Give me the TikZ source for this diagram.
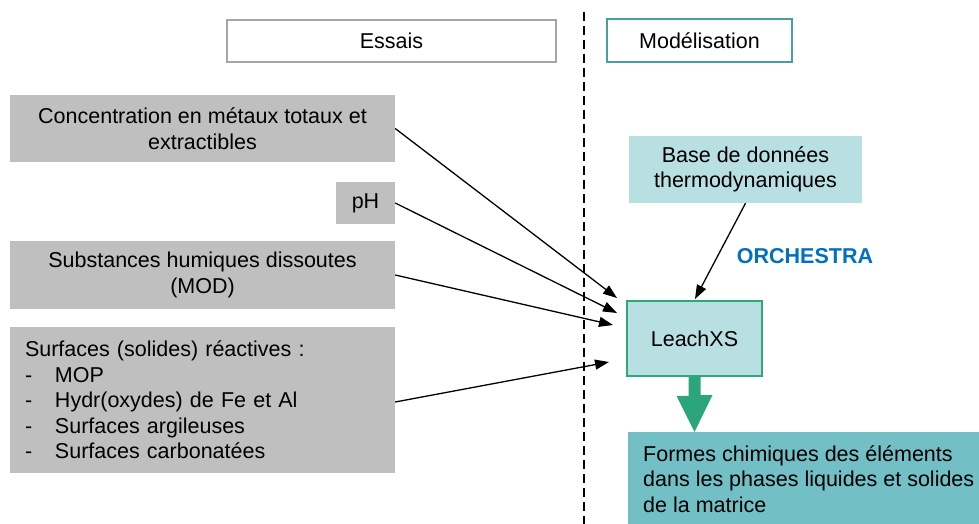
\documentclass[tikz,border=0pt]{standalone}
\usepackage{fontspec}
\setmainfont{Liberation Sans}
\usetikzlibrary{arrows.meta}
\definecolor{boxgray}{HTML}{BFBFBF}
\definecolor{hdrgray}{HTML}{A6A6A6}
\definecolor{hdrteal}{HTML}{4A9E9E}
\definecolor{lightteal}{HTML}{B8DFE2}
\definecolor{leachborder}{HTML}{2EA87C}
\definecolor{arrowgreen}{HTML}{2BA57B}
\definecolor{formesfill}{HTML}{72BFC5}
\definecolor{orchblue}{HTML}{0070C0}
\tikzset{
  txt/.style={font=\fontsize{21.5}{25.5}\selectfont},
  hdrbox/.style={txt, fill=white, line width=1.5pt, inner sep=0pt, align=center},
  graybox/.style={txt, fill=boxgray, inner sep=0pt, align=center},
  tealbox/.style={txt, fill=lightteal, inner sep=0pt, align=center},
  conn/.style={line width=1.3pt, -{Triangle[length=14pt,width=10pt]}},
  divider/.style={line width=1.5pt, dash pattern=on 9pt off 5pt}
}
\begin{document}
\begin{tikzpicture}[x=1pt,y=-1pt]
\useasboundingbox (0,0) rectangle (979,524);

% headers
\node[hdrbox, draw=hdrgray, minimum width=329pt, minimum height=42pt] (essais) at (391.5,41) {Essais};
\node[hdrbox, draw=hdrteal, minimum width=185pt, minimum height=43pt] (model) at (699.5,40.5) {Modélisation};

% divider
\coordinate (divtop) at (584,12);
\coordinate (divbot) at (584,524);
\draw[divider] (divtop) -- (divbot);

% left boxes
\node[graybox, minimum width=385pt, minimum height=67pt] (conc) at (202.5,128.5) {Concentration en métaux totaux et\\extractibles};
\node[graybox, minimum width=59pt, minimum height=42pt] (ph) at (365.5,203) {pH};
\node[graybox, minimum width=385pt, minimum height=68pt] (subst) at (202.5,275) {Substances humiques dissoutes\\(MOD)};
\node[txt, fill=boxgray, inner xsep=15pt, inner ysep=0pt, text width=355pt, minimum height=146pt, align=left] (surf) at (202.5,400)
  {Surfaces (solides) réactives :\\
   \makebox[30pt][l]{-}MOP\\
   \makebox[30pt][l]{-}Hydr(oxydes) de Fe et Al\\
   \makebox[30pt][l]{-}Surfaces argileuses\\
   \makebox[30pt][l]{-}Surfaces carbonatées};

% right boxes
\node[tealbox, minimum width=233pt, minimum height=67pt] (base) at (745.5,169.5) {Base de données\\thermodynamiques};
\node[tealbox, draw=leachborder, line width=1.5pt, minimum width=135pt, minimum height=75pt] (leach) at (694.5,338.5) {LeachXS};
\node[txt, font=\fontsize{21.5}{25.5}\selectfont\bfseries, text=orchblue, inner sep=0pt] (orch) at (805,256) {ORCHESTRA};

\node[fill=formesfill, minimum width=351pt, minimum height=92pt, inner sep=0pt, anchor=north west] (formes) at (628,432) {};
\node[txt, anchor=west, align=left, inner sep=0pt] (formestext) at (643,479)
  {Formes chimiques des éléments\\dans les phases liquides et solides\\de la matrice};

% thick arrow
\coordinate (bigtip) at (leach.south |- formes.north);
\fill[arrowgreen] (leach.south) ++(-6,0) -- ++(0,19) -- ++(-12,0) -- (bigtip) -- ++(18,-37) -- ++(-12,0) -- ++(0,-19) -- cycle;

% connectors
\coordinate (t1) at (617,298);
\coordinate (t2) at (617,313);
\coordinate (t3) at (613,325);
\coordinate (t4) at (609,362);
\coordinate (t5) at (695,299);
\draw[conn] (conc.east) -- (t1);
\draw[conn] (ph.east) -- (t2);
\draw[conn] (subst.east) -- (t3);
\draw[conn] (surf.east |- 0,402) -- (t4);
\draw[conn] (base.south) -- (t5);
\end{tikzpicture}
\end{document}
